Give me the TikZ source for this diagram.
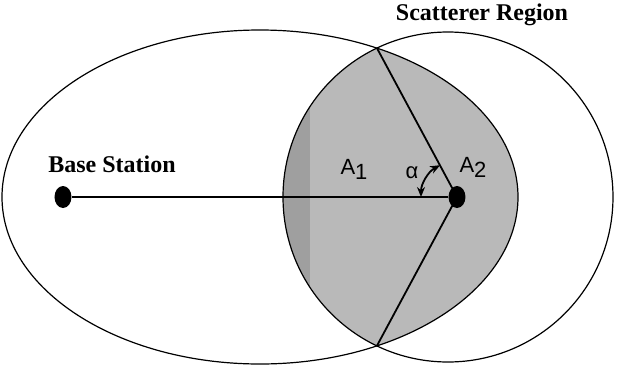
\documentclass[tikz,border=0pt]{standalone}
\usepackage{fontspec}
\setmainfont{Liberation Serif}
\newfontfamily\labelfont{Liberation Sans}
\usepackage{tikz}
\usetikzlibrary{positioning, arrows.meta, shapes.geometric, intersections, calc}

\tikzset{
    dot/.style={ellipse, fill=black, inner sep=0pt, minimum width=8.5pt, minimum height=11pt},
    title/.style={font=\bfseries\fontsize{12}{14}\selectfont},
    area/.style={font=\labelfont\fontsize{11}{12}\selectfont},
    rim/.style={line width=0.6pt},
}

\begin{document}
\begin{tikzpicture}[x=0.5pt, y=0.5pt]
    \useasboundingbox (0,0) rectangle (618,372);

    % shaded overlap of the two regions
    \begin{scope}
        \clip (260,175) ellipse [x radius=258, y radius=167];
        \fill[gray!55] (448,175) circle [radius=165];
        \clip (0,0) rectangle (310,372);
        \fill[gray!75] (448,175) circle [radius=165];
    \end{scope}

    \draw[rim, name path=ell] (260,175) ellipse [x radius=258, y radius=167];
    \draw[rim, name path=circ] (448,175) circle [radius=165];
    \path[name intersections={of=ell and circ, by={cross1,cross2}}];

    \node[dot] (bs) at (63,175) {};
    \node[dot] (ms) at (457,175) {};
    \node[title] (bslabel) at (112,208) {Base Station};
    \node[title] (scat) at (482,357) {Scatterer Region};

    \draw[line width=0.7pt] (bs) -- (ms);
    \draw[line width=0.9pt] (ms.center) -- (cross1);
    \draw[line width=0.9pt] (ms.center) -- (cross2);
    \draw[{Stealth[length=5pt,width=4pt]}-{Stealth[length=5pt,width=4pt]}, line width=0.9pt]
        ($(ms.center)+(180:36)$) arc [start angle=180, end angle=118, radius=36];

    \node[area] (aone) at (354,203) {A\raisebox{-2.5pt}{1}};
    \node[area] (atwo) at (473,205) {A\raisebox{-2.5pt}{2}};
    \node[area] (alpha) at (412,199) {α};
\end{tikzpicture}
\end{document}
